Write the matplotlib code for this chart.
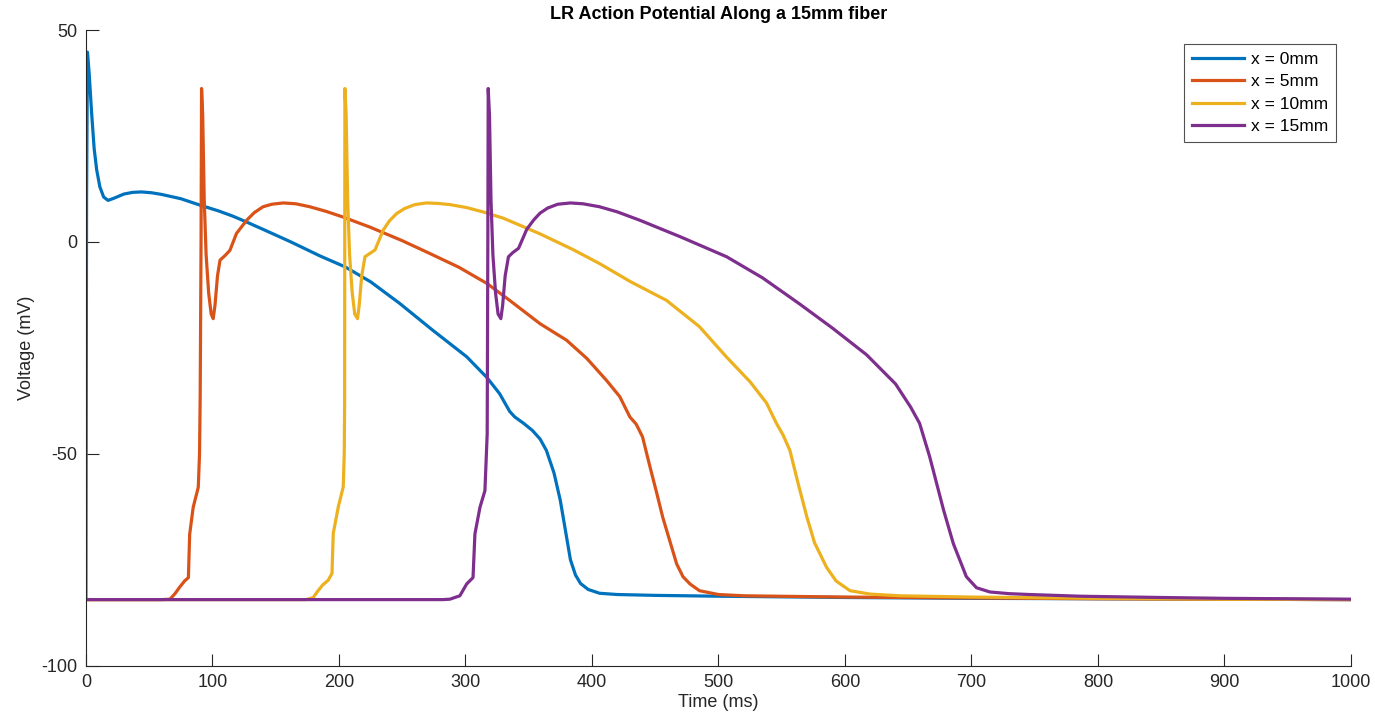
import matplotlib
matplotlib.use("Agg")
import matplotlib.pyplot as plt

plt.rcParams['font.family'] = ['Liberation Sans', 'DejaVu Sans']
plt.rcParams['axes.unicode_minus'] = False

# x = 0mm
t0 = [0, 0.5, 1.2, 2.5, 4.5, 6.5, 8.5, 11, 14, 17.5, 22, 30, 37, 44, 52, 60, 75,
      90, 105, 116, 127, 145, 162, 185, 205, 225, 248, 274, 301, 317, 327, 335,
      339, 346, 353, 359, 364, 370, 375, 379, 383, 387, 391, 397, 406, 420, 450,
      500, 600, 700, 800, 900, 1000]
v0 = [-84.2, 10, 44.8, 40, 30.4, 22, 17, 13, 10.6, 9.8, 10.3, 11.3, 11.7, 11.8,
      11.6, 11.2, 10.2, 8.7, 7.3, 6.1, 4.7, 2.3, 0, -3.3, -5.9, -9.4, -14.5, -20.8,
      -27.1, -32, -35.8, -40, -41.3, -42.8, -44.5, -46.5, -49.2, -54.5, -61, -68,
      -75, -78.6, -80.6, -82, -82.9, -83.2, -83.4, -83.6, -83.9, -84.1, -84.2,
      -84.3, -84.4]

# x = 5mm
t5 = [0, 60, 66.4, 70.4, 74, 78, 81, 82, 84.8, 88.8, 89.8, 90.3, 91, 91.4, 92.3,
      93.5, 95, 97, 99, 100.6, 102, 104, 106, 110, 113.8, 119, 127, 133, 140, 147,
      156, 166, 177, 190, 203, 224.5, 250, 272, 295, 317, 335, 359, 380, 396,
      411.6, 422, 430, 435, 440, 446, 451, 456, 462, 467, 472, 477.5, 485, 500,
      520, 600, 700, 800, 900, 1000]
v5 = [-84.4, -84.4, -84.3, -83, -81.5, -80, -79.2, -69, -62.6, -57.9, -50, -37, 0,
      36.2, 30, 10, -3, -12, -17, -18.1, -15, -8, -4.3, -3.2, -2, 2, 5.1, 6.9, 8.3,
      8.9, 9.2, 9.0, 8.3, 7.2, 5.9, 3.5, 0.3, -2.75, -6, -9.8, -13.8, -19.3,
      -23.2, -27.5, -32.7, -36.5, -41.3, -43, -46, -53.2, -59, -65, -71, -76, -79,
      -80.7, -82.3, -83.2, -83.5, -83.8, -84.0, -84.2, -84.3, -84.4]

# x = 10mm
t10 = [0, 174, 179.7, 183, 187, 191.6, 194.5, 195.5, 199.5, 203.4, 204.2, 204.5,
       204.7, 205.7, 206.9, 208.4, 210.5, 212.5, 214.7, 216, 218, 220.6, 224,
       228.5, 235, 240, 245.6, 252, 260, 269, 278, 288, 301, 315, 330, 359, 385,
       406, 430, 459, 485, 506.5, 525, 538, 546, 551, 556.5, 563, 570, 576, 585.5,
       593, 604, 620, 643.5, 700, 800, 900, 1000]
v10 = [-84.4, -84.4, -83.9, -82.5, -81, -79.8, -78.2, -68.8, -62.5, -57.8, -50,
       -37.3, 36.2, 30, 10, -3, -12, -17, -18.1, -15, -8, -3.5, -2.8, -1.9, 2.8,
       5, 6.7, 7.9, 8.8, 9.2, 9.1, 8.8, 8.1, 7, 5.6, 1.9, -1.8, -5.1, -9.3, -13.8,
       -20, -27.2, -33, -38, -42.9, -45.5, -49.2, -57, -65, -71, -76.8, -80,
       -82.3, -83.1, -83.5, -83.8, -84.1, -84.3, -84.4]

# x = 15mm
t15 = [0, 282, 287.7, 295.6, 301, 306, 307.5, 311.5, 315.4, 317.2, 317.7, 318,
       319, 320.2, 321.7, 323.8, 325.8, 328, 329.4, 331.4, 334, 337.5, 342, 348.5,
       354, 359, 365, 373, 383, 393, 406, 420, 438, 470, 506.5, 535, 564, 590,
       617, 640, 652, 659, 667, 678, 685.7, 696, 704, 714.6, 730, 746, 786, 850,
       900, 1000]
v15 = [-84.4, -84.4, -84.3, -83.5, -80.7, -79.2, -68.9, -62.6, -58.7, -45.3, 0,
       36.2, 30, 10, -3, -12, -17, -18.1, -15, -8, -3.5, -2.5, -1.5, 3, 5.2, 6.8,
       8, 8.9, 9.2, 9.0, 8.3, 7.1, 5.1, 1.2, -3.5, -8.5, -14.6, -20.3, -26.6,
       -33.5, -39, -42.8, -50.7, -63.3, -71.2, -79, -81.6, -82.6, -83, -83.2,
       -83.6, -83.9, -84.1, -84.3]

series = [(t0, v0, 'x = 0mm'), (t5, v5, 'x = 5mm'),
          (t10, v10, 'x = 10mm'), (t15, v15, 'x = 15mm')]
colors = ['#0072BD', '#D95319', '#EDB120', '#7E2F8E']

fig = plt.figure(figsize=(13.75, 7.24), dpi=100)
ax = fig.add_axes([0.0625, 0.0805, 0.92, 0.878])

for (t, v, lab), c in zip(series, colors):
    ax.plot(t, v, color=c, lw=2.3, label=lab, solid_joinstyle='round')

ax.set_xlim(0, 1000)
ax.set_ylim(-100, 50)
ax.set_xticks(range(0, 1001, 100))
ax.set_yticks([-100, -50, 0, 50])

for s in ['top', 'right']:
    ax.spines[s].set_visible(False)
for s in ['left', 'bottom']:
    ax.spines[s].set_color('#262626')
    ax.spines[s].set_linewidth(0.8)
ax.tick_params(direction='in', length=9, width=0.8, colors='#262626',
               labelsize=13, pad=6)

ax.set_xlabel('Time (ms)', fontsize=13, color='#262626', labelpad=2)
ax.set_ylabel('Voltage (mV)', fontsize=13, color='#262626', labelpad=5)
ax.set_title('LR Action Potential Along a 15mm fiber', fontsize=13,
             fontweight='bold', pad=8)

leg = ax.legend(loc='upper right', bbox_to_anchor=(0.988, 0.978),
                borderaxespad=0, fontsize=12.5, fancybox=False,
                edgecolor='#262626', handlelength=3.0, handletextpad=0.4,
                borderpad=0.45, labelspacing=0.42)
leg.get_frame().set_linewidth(0.8)

fig.savefig('out.png', dpi=100)
